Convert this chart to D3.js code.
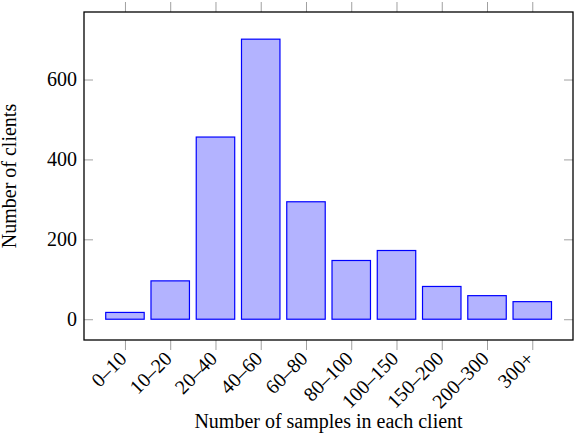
<!DOCTYPE html>
<html>
<head>
<meta charset="utf-8">
<script src="https://cdn.jsdelivr.net/npm/d3@7"></script>
<style>
  body { margin: 0; background: #fff; }
  svg text { font-family: "Liberation Serif", "Times New Roman", serif; fill: #000; }
  .axis path { display: none; }
  .axis line { stroke: #a0a0a0; stroke-width: 1; }
</style>
</head>
<body>
<div id="chart"></div>
<script>
// Bin labels and client counts
var bins = ["0–10", "10–20", "20–40", "40–60", "60–80", "80–100", "100–150", "150–200", "200–300", "300+"];
var clients = [17, 96, 456, 701, 294, 147, 172, 82, 59, 44];
var yTicks = [0, 200, 400, 600];

var svgWidth = 576;
var svgHeight = 436;

// plot frame in pixels
var frame = {left: 84, right: 573, top: 12, bottom: 340};

var svg = d3.select("#chart")
    .append("svg")
    .attr("width", svgWidth)
    .attr("height", svgHeight);

var xScale = d3.scaleLinear()
    .domain([-0.905, bins.length - 1 + 0.9])
    .range([frame.left, frame.right]);

var yScale = d3.scaleLinear()
    .domain([-52, 769])
    .range([frame.bottom, frame.top]);

var barWidth = 0.85 * (xScale(1) - xScale(0));

// bars
svg.append("g").selectAll("rect")
    .data(clients)
    .enter()
    .append("rect")
    .attr("x", (d, i) => xScale(i) - barWidth / 2)
    .attr("y", d => yScale(d))
    .attr("width", barWidth)
    .attr("height", d => yScale(0) - yScale(d))
    .attr("fill", "#b3b3ff")
    .attr("stroke", "#0000ff")
    .attr("stroke-width", 1.2);

// axes: x ticks outward (top & bottom), y ticks inward (left & right)
var idx = bins.map((b, i) => i);

var bottomAxis = d3.axisBottom(xScale).tickValues(idx).tickSize(10).tickFormat("");
svg.append("g").attr("class", "axis")
    .attr("transform", `translate(0, ${frame.bottom})`)
    .call(bottomAxis);

var topAxis = d3.axisTop(xScale).tickValues(idx).tickSize(10).tickFormat("");
svg.append("g").attr("class", "axis")
    .attr("transform", `translate(0, ${frame.top})`)
    .call(topAxis);

var leftAxis = d3.axisLeft(yScale).tickValues(yTicks).tickSize(-9).tickPadding(7);
var yAxis = svg.append("g").attr("class", "axis")
    .attr("transform", `translate(${frame.left}, 0)`)
    .call(leftAxis);
yAxis.selectAll("text")
    .style("font-size", "20px");

var rightAxis = d3.axisRight(yScale).tickValues(yTicks).tickSize(-9).tickFormat("");
svg.append("g").attr("class", "axis")
    .attr("transform", `translate(${frame.right}, 0)`)
    .call(rightAxis);

// rotated x tick labels, anchored at their east end
svg.append("g").selectAll("text")
    .data(bins)
    .enter()
    .append("text")
    .attr("transform", (d, i) => `translate(${xScale(i) - 2}, ${frame.bottom + 15}) rotate(-45)`)
    .attr("text-anchor", "end")
    .attr("dy", "0.35em")
    .style("font-size", "20px")
    .text(d => d);

// frame
svg.append("rect")
    .attr("x", frame.left)
    .attr("y", frame.top)
    .attr("width", frame.right - frame.left)
    .attr("height", frame.bottom - frame.top)
    .attr("fill", "none")
    .attr("stroke", "#000")
    .attr("stroke-width", 1.3);

// axis titles
svg.append("text")
    .attr("x", (frame.left + frame.right) / 2)
    .attr("y", 428)
    .attr("text-anchor", "middle")
    .style("font-size", "20px")
    .text("Number of samples in each client");

svg.append("text")
    .attr("transform", `translate(16, ${(frame.top + frame.bottom) / 2}) rotate(-90)`)
    .attr("text-anchor", "middle")
    .style("font-size", "20px")
    .text("Number of clients");
</script>
</body>
</html>
